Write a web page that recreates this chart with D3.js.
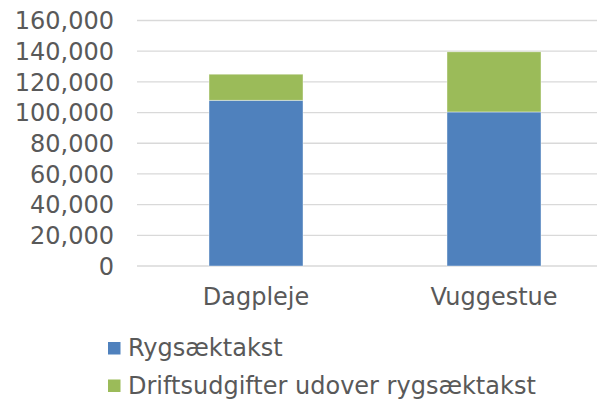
<!DOCTYPE html>
<html>
<head>
<meta charset="utf-8">
<script src="https://cdn.jsdelivr.net/npm/d3@7"></script>
<style>
  body { margin: 0; background: #fff; }
  svg text { font-family: "DejaVu Sans", Verdana, sans-serif; fill: #595959; }
</style>
</head>
<body>
<div id="chart"></div>
<script>
// chart data
const categories = ["Dagpleje", "Vuggestue"];
const rygsaek = [108000, 100400];
const drift = [17000, 39200];
const seriesNames = ["Rygsæktakst", "Driftsudgifter udover rygsæktakst"];
const seriesColors = ["#4f81bd", "#9bbb59"];
const yTicks = [0, 20000, 40000, 60000, 80000, 100000, 120000, 140000, 160000];

const width = 597, height = 400;

const svg = d3.select("#chart").append("svg")
    .attr("width", width)
    .attr("height", height);

const x = d3.scaleBand()
    .domain(categories)
    .range([137, 613])
    .paddingInner(0.605)
    .paddingOuter(0.3025);

const y = d3.scaleLinear()
    .domain([0, 160000])
    .range([266, 20.5]);

// gridlines
svg.append("g")
  .selectAll("line")
  .data(yTicks)
  .join("line")
    .attr("x1", 137)
    .attr("x2", width)
    .attr("y1", d => y(d))
    .attr("y2", d => y(d))
    .attr("stroke", "#d9d9d9")
    .attr("stroke-width", 1.3);

// y tick labels
const fmt = d3.format(",");
svg.append("g")
  .selectAll("text")
  .data(yTicks)
  .join("text")
    .attr("x", 114)
    .attr("y", d => y(d))
    .attr("dy", "0.36em")
    .attr("text-anchor", "end")
    .attr("font-size", 24)
    .text(d => fmt(d));

// stacked bars
const rows = categories.map((c, i) => ({cat: c, s0: rygsaek[i], s1: drift[i]}));
const stack = d3.stack().keys(["s0", "s1"])(rows);

svg.append("g")
  .selectAll("g")
  .data(stack)
  .join("g")
    .attr("fill", (d, i) => seriesColors[i])
  .selectAll("rect")
  .data(d => d)
  .join("rect")
    .attr("x", d => x(d.data.cat))
    .attr("width", x.bandwidth())
    .attr("y", d => y(d[1]))
    .attr("height", d => y(d[0]) - y(d[1]))
    .attr("stroke", "#ffffff")
    .attr("stroke-opacity", 0.5)
    .attr("stroke-width", 0.8);

// category labels
svg.append("g")
  .selectAll("text")
  .data(categories)
  .join("text")
    .attr("x", d => x(d) + x.bandwidth() / 2)
    .attr("y", 305)
    .attr("text-anchor", "middle")
    .attr("font-size", 24)
    .text(d => d);

// legend
const legend = svg.append("g")
  .selectAll("g")
  .data(seriesNames)
  .join("g")
    .attr("transform", (d, i) => `translate(108, ${342 + i * 37.5})`);

legend.append("rect")
    .attr("width", 12.5)
    .attr("height", 12.5)
    .attr("fill", (d, i) => seriesColors[i]);

legend.append("text")
    .attr("x", 20)
    .attr("y", 14.2)
    .attr("font-size", 24)
    .text(d => d);
</script>
</body>
</html>
